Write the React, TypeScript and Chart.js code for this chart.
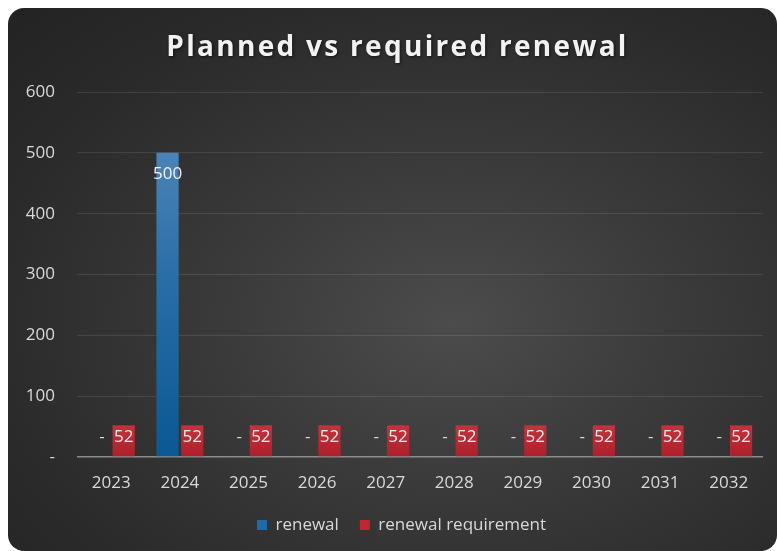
import React, { useEffect, useRef } from "react";
import { Chart, registerables } from "chart.js";

Chart.register(...registerables);

const years = ["2023", "2024", "2025", "2026", "2027", "2028", "2029", "2030", "2031", "2032"];
const renewal = [0, 500, 0, 0, 0, 0, 0, 0, 0, 0];
const renewalRequirement = [52, 52, 52, 52, 52, 52, 52, 52, 52, 52];
const seriesNames = ["renewal", "renewal requirement"];
const titleText = "Planned vs required renewal";
const yMin = 0;
const yMax = 600;
const yStep = 100;

const FONT = "'Open Sans', 'Noto Sans', sans-serif";

const titlePlugin = {
  id: "customTitle",
  afterDraw(chart: any) {
    const ctx = chart.ctx;
    ctx.save();
    ctx.font = `bold 28px ${FONT}`;
    try { (ctx as any).letterSpacing = "2.3px"; } catch (e) {}
    ctx.fillStyle = "#f2f2f2";
    ctx.textAlign = "center";
    ctx.textBaseline = "alphabetic";
    ctx.shadowColor = "rgba(0,0,0,0.6)";
    ctx.shadowBlur = 3;
    ctx.shadowOffsetX = 1;
    ctx.shadowOffsetY = 1;
    ctx.fillText(titleText, chart.width / 2 + 5, 48);
    ctx.restore();
  },
};

const legendShift = {
  id: "legendShift",
  afterLayout(chart: any) {
    if (chart.legend) {
      chart.legend.left += 16;
      chart.legend.right += 16;
    }
  },
};

const labelPlugin = {
  id: "barLabels",
  afterDatasetsDraw(chart: any) {
    const ctx = chart.ctx;
    const base = chart.scales.y.getPixelForValue(0);
    ctx.save();
    ctx.font = `17px ${FONT}`;
    ctx.textAlign = "center";
    ctx.textBaseline = "middle";
    chart.data.datasets.forEach((ds: any, di: number) => {
      const meta = chart.getDatasetMeta(di);
      meta.data.forEach((bar: any, i: number) => {
        const v = ds.data[i];
        let text: string;
        let y: number;
        let x = bar.x;
        if (v === 0) {
          text = "-";
          y = base - 20;
          x = bar.x + 3;
          ctx.fillStyle = "#d9d9d9";
        } else {
          text = String(v);
          y = bar.y + (v >= 100 ? 21 : 12);
          ctx.fillStyle = "#f2f2f2";
        }
        ctx.fillText(text, x, y);
      });
    });
    ctx.restore();
  },
};

function blueFill(ctx: any) {
  const chart = ctx.chart;
  const area = chart.chartArea;
  if (!area) return "#1f64a0";
  const g = chart.ctx.createLinearGradient(0, area.top, 0, area.bottom);
  g.addColorStop(0, "#5b8ebd");
  g.addColorStop(0.5, "#2a6ea8");
  g.addColorStop(1, "#0a5894");
  return g;
}

function redFill(ctx: any) {
  const chart = ctx.chart;
  const area = chart.chartArea;
  if (!area) return "#b82530";
  const top = chart.scales.y.getPixelForValue(60);
  const g = chart.ctx.createLinearGradient(0, top, 0, area.bottom);
  g.addColorStop(0, "#c8363e");
  g.addColorStop(1, "#ad1f29");
  return g;
}

export default function App() {
  const ref = useRef<HTMLCanvasElement | null>(null);

  useEffect(() => {
    if (!ref.current) return;
    const chart = new Chart(ref.current, {
      type: "bar",
      data: {
        labels: years,
        datasets: [
          {
            label: seriesNames[0],
            data: renewal,
            backgroundColor: blueFill as any,
            categoryPercentage: 0.72,
            barPercentage: 0.9,
          },
          {
            label: seriesNames[1],
            data: renewalRequirement,
            backgroundColor: redFill as any,
            categoryPercentage: 0.72,
            barPercentage: 0.9,
          },
        ],
      },
      options: {
        responsive: false,
        animation: false,
        layout: { padding: { top: 84, left: 0, right: 14, bottom: 7.5 } },
        plugins: {
          title: { display: false },
          tooltip: { enabled: false },
          legend: {
            position: "bottom",
            labels: {
              color: "#d9d9d9",
              font: { family: FONT, size: 17 },
              boxWidth: 10,
              boxHeight: 10,
              padding: 21,
              generateLabels: (c: any) =>
                seriesNames.map((n, i) => ({
                  text: n,
                  fillStyle: i === 0 ? "#1f6aa8" : "#c0272f",
                  strokeStyle: "transparent",
                  lineWidth: 0,
                  datasetIndex: i,
                  fontColor: "#d9d9d9",
                })),
            },
          },
        },
        scales: {
          x: {
            grid: { display: false },
            border: { display: false },
            afterFit: (s: any) => { s.height = 38.5; },
            ticks: { color: "#d9d9d9", font: { family: FONT, size: 17 }, padding: 8 },
          },
          y: {
            min: yMin,
            max: yMax,
            afterFit: (s: any) => { s.width = 69; },
            border: { display: false },
            grid: {
              drawTicks: false,
              color: (c: any) => (c.tick && c.tick.value === 0 ? "#8c8c8c" : "rgba(255,255,255,0.1)"),
              lineWidth: (c: any) => (c.tick && c.tick.value === 0 ? 1.5 : 1),
            },
            ticks: {
              stepSize: yStep,
              color: "#d9d9d9",
              font: { family: FONT, size: 17 },
              padding: 22,
              callback: (v: any) => (v === 0 ? "-" : String(v)),
            },
          },
        },
      },
      plugins: [labelPlugin, titlePlugin, legendShift],
    });
    return () => chart.destroy();
  }, []);

  return (
    <div
      style={{
        position: "absolute",
        left: 8,
        top: 8,
        width: 769,
        height: 543,
        borderRadius: 16,
        overflow: "hidden",
        background:
          "radial-gradient(ellipse farthest-corner at 58% 58%, #4c4c4c 0%, #3b3b3b 35%, #2a2a2a 75%, #232323 100%)",
      }}
    >
      <canvas ref={ref} width={769} height={543} style={{ display: "block" }} />
    </div>
  );
}
